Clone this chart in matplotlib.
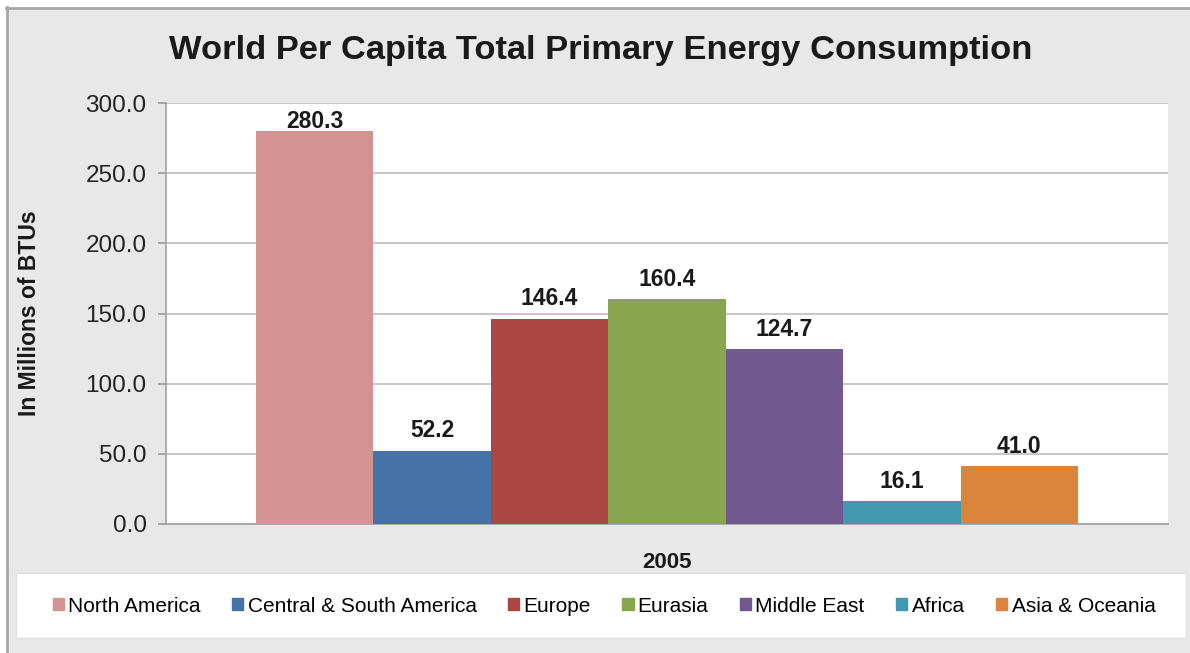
import matplotlib.pyplot as plt
from matplotlib.patches import Rectangle
from matplotlib.lines import Line2D

plt.rcParams['font.family'] = ['Liberation Sans', 'DejaVu Sans']

regions = ['North America', 'Central & South America', 'Europe', 'Eurasia',
           'Middle East', 'Africa', 'Asia & Oceania']
values = [280.3, 52.2, 146.4, 160.4, 124.7, 16.1, 41.0]
colors = ['#D39393', '#4572A7', '#AA4643', '#89A54E', '#71588F', '#4198AF', '#DB843D']
year = '2005'
yticks = [0, 50, 100, 150, 200, 250, 300]

fig = plt.figure(figsize=(11.9, 6.53), dpi=100, facecolor='#E8E8E8')

# white strip + gray border top/left
fig.add_artist(Rectangle((0, 0), 6 / 1190, 1, transform=fig.transFigure, color='white', zorder=0))
fig.add_artist(Rectangle((0, 1 - 7 / 653), 1, 7 / 653, transform=fig.transFigure, color='white', zorder=0))
fig.add_artist(Line2D([6.5 / 1190, 6.5 / 1190], [0, 1 - 7 / 653], transform=fig.transFigure, color='#A8A8A8', lw=2))
fig.add_artist(Line2D([6 / 1190, 1], [1 - 7.5 / 653, 1 - 7.5 / 653], transform=fig.transFigure, color='#A8A8A8', lw=2))

ax = fig.add_axes([166 / 1190, 1 - 524 / 653, 1002 / 1190, 421 / 653])
ax.set_facecolor('white')

ymax = 300
n = len(values)
xs = [i - (n - 1) / 2 for i in range(n)]
ax.bar(xs, values, width=1.0, color=colors, zorder=3)
for x, v in zip(xs, values):
    if v > ymax - 25:
        # label kept inside the plot area like Excel does
        ax.annotate(f'{v:.1f}', (x, ymax), xytext=(0, -5), textcoords='offset points',
                    ha='center', va='top', fontsize=16.5, fontweight='bold',
                    color='#1A1A1A', zorder=4)
    else:
        ax.annotate(f'{v:.1f}', (x, v), xytext=(0, 6), textcoords='offset points',
                    ha='center', va='bottom', fontsize=16.5, fontweight='bold',
                    color='#1A1A1A', zorder=4)

gap = 0.765
ax.set_xlim(-n / 2 - gap, n / 2 + gap)
ax.set_ylim(0, ymax)
ax.set_yticks(yticks)
ax.set_yticklabels([f'{t:.1f}' for t in yticks], fontsize=17.5, color='#222222')
ax.set_xticks([0])
ax.set_xticklabels([year], fontsize=16, fontweight='bold', color='#1A1A1A')
ax.tick_params(axis='x', length=0, pad=20)
ax.tick_params(axis='y', length=6, color='#999999', width=1.2, pad=8)
ax.grid(axis='y', color='#BDBDBD', lw=1.2, zorder=0)
for s in ['top', 'right']:
    ax.spines[s].set_visible(False)
for s in ['left', 'bottom']:
    ax.spines[s].set_color('#A0A0A0')
    ax.spines[s].set_linewidth(1.2)

ax.set_ylabel('In Millions of BTUs', fontsize=16.5, fontweight='bold', color='#1A1A1A')
ax.yaxis.set_label_coords((41 - 166) / 1002, 0.5)

fig.text(601 / 1190, 1 - 50 / 653, 'World Per Capita Total Primary Energy Consumption',
         ha='center', va='center', fontsize=24.8, fontweight='bold', color='#1A1A1A')

# legend box
fig.add_artist(Rectangle((16 / 1190, 1 - 638 / 653), 1170 / 1190, 65 / 653,
                         transform=fig.transFigure, facecolor='white', edgecolor='#E0E0E0', zorder=1))
handles = [Rectangle((0, 0), 1, 1, color=c) for c in colors]
leg = fig.legend(handles, regions, loc='center', bbox_to_anchor=(604 / 1190, 1 - 606 / 653),
                 ncol=n, frameon=False, fontsize=15, handlelength=0.55, handleheight=0.55,
                 handletextpad=0.2, columnspacing=1.5)
leg.set_zorder(2)

fig.savefig('out.png', dpi=100, facecolor=fig.get_facecolor())
